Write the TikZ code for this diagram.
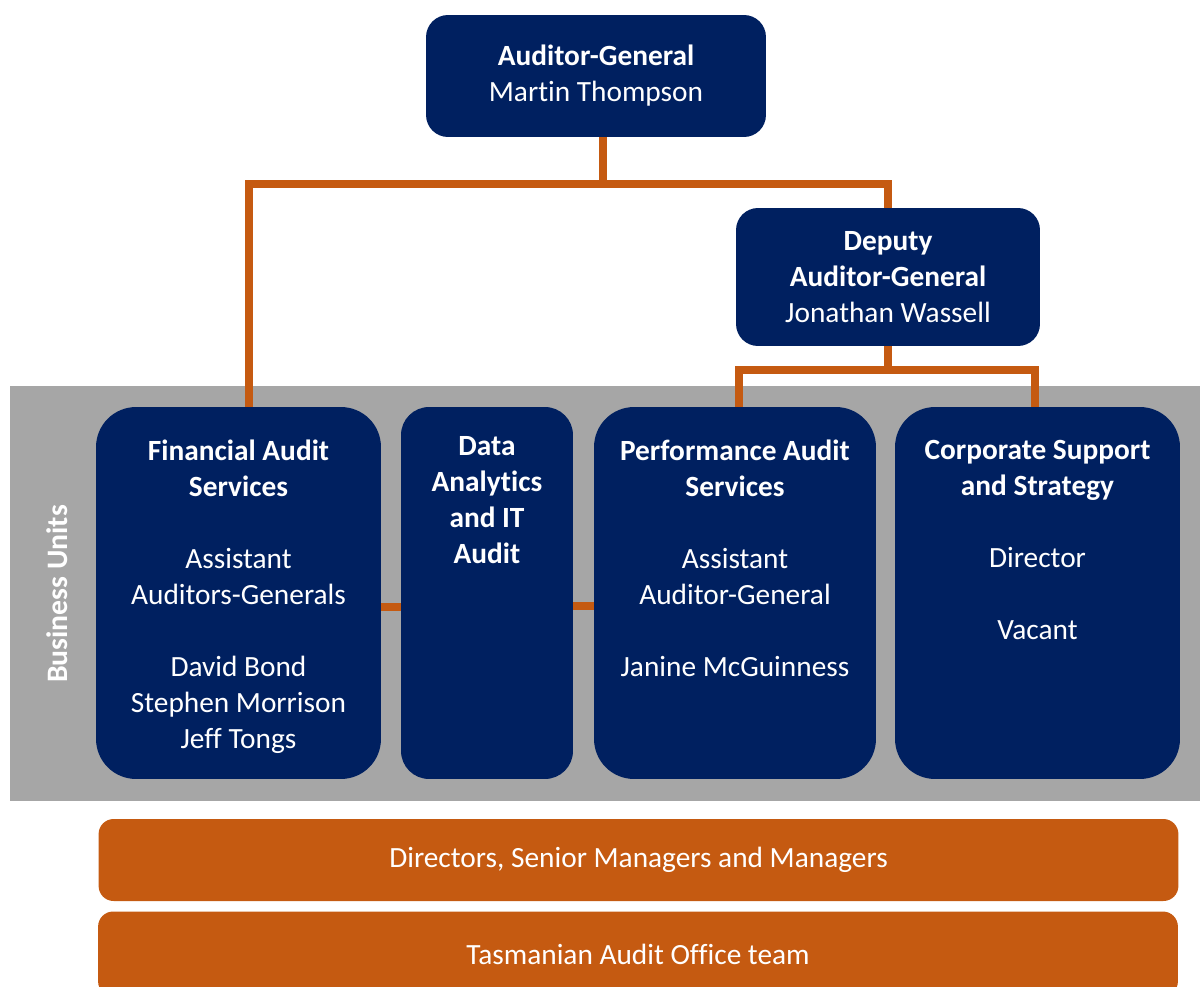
\documentclass[tikz,border=0pt]{standalone}
\usepackage{fontspec}
\setmainfont{Carlito}[Ligatures=NoCommon]
\usetikzlibrary{positioning,calc}
\definecolor{officenavy}{RGB}{0,32,96}
\definecolor{rust}{RGB}{197,90,17}
\definecolor{panel}{RGB}{166,166,166}

\tikzset{
  head/.style={fill=officenavy,text=white,rounded corners=.44cm,align=center,inner sep=0pt},
  unit/.style={fill=officenavy,rounded corners=.8cm,minimum height=7.44cm,inner sep=0pt},
  unittext/.style={text=white,align=center,inner sep=0pt},
  staff/.style={fill=rust,text=white,rounded corners=.3cm,minimum width=21.6cm,inner sep=0pt},
  link/.style={draw=rust,line width=.16cm},
}

\begin{document}
\begin{tikzpicture}[x=.02cm,y=-.02cm,font=\fontsize{16.7}{20.5}\selectfont]
\useasboundingbox (0,0) rectangle (1200,987);
% grey band behind the business units
\fill[panel] (10,386) rectangle (1200,801);
\node[rotate=90,text=white,font=\fontsize{16.9}{20.5}\selectfont\bfseries] (bu) at (57,594) {Business Units};

% executive
\node[head,minimum width=6.8cm,minimum height=2.44cm] (ag) at (596,76) {\textbf{Auditor-General}\\Martin Thompson};
\node[head,minimum width=6.08cm,minimum height=2.76cm] (dag) at (888,277) {\textbf{Deputy}\\\textbf{Auditor-General}\\Jonathan Wassell};

% business units
\node[unit,minimum width=5.7cm] (fas) at (238.5,593) {};
\node[unit,minimum width=3.44cm,rounded corners=.56cm] (dia) at (487,593) {};
\node[unit,minimum width=5.64cm] (pas) at (735,593) {};
\node[unit,minimum width=5.7cm] (cor) at (1037.5,593) {};

\node[unittext,below=.66cm of fas.north] (fastext) {\textbf{Financial Audit}\\\textbf{Services}\\[.72cm]Assistant\\Auditors-Generals\\[.72cm]David Bond\\Stephen Morrison\\Jeff Tongs};
\node[unittext,below=.58cm of dia.north] (diatext) {\textbf{Data}\\\textbf{Analytics}\\\textbf{and IT}\\\textbf{Audit}};
\node[unittext,below=.66cm of pas.north] (pastext) {\textbf{Performance Audit}\\\textbf{Services}\\[.72cm]Assistant\\Auditor-General\\[.72cm]Janine McGuinness};
\node[unittext,below=.66cm of cor.north] (cortext) {\textbf{Corporate Support}\\\textbf{and Strategy}\\[.72cm]Director\\[.72cm]Vacant};

% reporting lines
\draw[link] ([xshift=.14cm]ag.south) -- ++(0,47) coordinate (fork);
\draw[link] ([xshift=.2cm]fas.north) |- (fork) -| (dag.north);
\draw[link] (dag.south) -- ++(0,24) coordinate (dfork);
\draw[link] ([xshift=.08cm]pas.north) |- (dfork) -| ([xshift=-.05cm]cor.north);
\draw[link] ([yshift=-.28cm]fas.east) -- ([yshift=-.28cm]dia.west);
\draw[link] ([yshift=-.26cm]dia.east) -- ([yshift=-.26cm]pas.west);

% staff levels
\node[staff,minimum height=1.64cm] (mgr) at (638.5,860) {Directors, Senior Managers and Managers};
\node[staff,minimum height=1.7cm] (team) at (638,954) {Tasmanian Audit Office team};
\end{tikzpicture}
\end{document}
